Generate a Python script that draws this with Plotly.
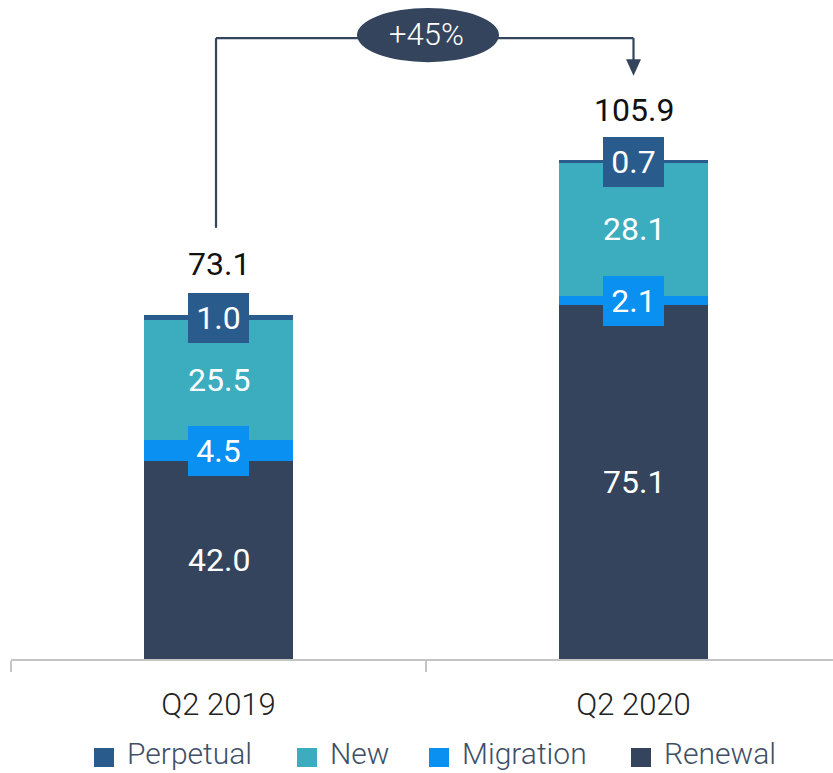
import plotly.graph_objects as go

categories = ["Q2 2019", "Q2 2020"]
renewal = [42.0, 75.1]
migration = [4.5, 2.1]
new = [25.5, 28.1]
perpetual = [1.0, 0.7]
totals = [73.1, 105.9]
growth_label = "+45%"

series = [
    ("Renewal", renewal, "#33445c", False),
    ("Migration", migration, "#0a90f0", True),
    ("New", new, "#3badbf", False),
    ("Perpetual", perpetual, "#2a5b8d", True),
]
legend_order = ["Perpetual", "New", "Migration", "Renewal"]

FONT = "Roboto"
fig = go.Figure()
annotations = []
base = [0.0, 0.0]
for name, vals, color, boxed in series:
    fig.add_trace(go.Bar(
        x=categories, y=vals, name=name, marker=dict(color=color, line=dict(width=0)),
        width=0.357, showlegend=False, hoverinfo="x+y+name",
    ))
    for i, v in enumerate(vals):
        yc = base[i] + v / 2
        ann = dict(x=categories[i], y=yc, xref="x", yref="y", text=f"{v:.1f}",
                   showarrow=False, font=dict(family=FONT, size=32, color="white"),
                   xanchor="center", yanchor="middle")
        if boxed:
            ann.update(bgcolor=color, width=61, height=50, borderpad=0, borderwidth=0)
        annotations.append(ann)
        base[i] += v

for i, t in enumerate(totals):
    annotations.append(dict(x=categories[i], y=t, xref="x", yref="y", text=f"{t:.1f}",
                            showarrow=False, yanchor="middle", yshift=51,
                            font=dict(family=FONT, size=32, color="#111111")))

arrow_c = "#33445c"
shapes = [
    dict(type="line", xref="x", yref="y", x0=-0.006, x1=-0.006, y0=91.6, y1=131.9,
         line=dict(color=arrow_c, width=2.2)),
    dict(type="line", xref="x", yref="y", x0=-0.006, x1=1.0, y0=131.9, y1=131.9,
         line=dict(color=arrow_c, width=2.2)),
    dict(type="line", xref="x", yref="y", x0=1.0, x1=1.0, y0=131.9, y1=126.5,
         line=dict(color=arrow_c, width=2.2)),
    dict(type="path", xref="x", yref="y",
         path="M 0.982 127.4 L 1.018 127.4 L 1.0 123.9 Z",
         fillcolor=arrow_c, line=dict(width=0)),
    dict(type="circle", xref="x", yref="y", x0=0.3337, x1=0.6759, y0=126.8, y1=138.3,
         fillcolor=arrow_c, line=dict(width=0)),
]
annotations.append(dict(x=0.5, y=132.6, xref="x", yref="y", text=growth_label, showarrow=False,
                        font=dict(family=FONT, size=31, color="white", weight=300)))

# custom legend
color_of = {n: c for n, _, c, _ in series}
legend_x = [94, 297, 429, 631]
W = 822.0
H = 659.0
for name, px in zip(legend_order, legend_x):
    x0 = (px - 11) / W
    x1 = (px + 20 - 11) / W
    shapes.append(dict(type="rect", xref="paper", yref="paper", x0=x0, x1=x1,
                       y0=(659 - 767) / H, y1=(659 - 748) / H,
                       fillcolor=color_of[name], line=dict(width=0)))
    annotations.append(dict(x=(px + 31 - 11) / W, y=(659 - 753) / H, xref="paper", yref="paper",
                            text=name, showarrow=False, xanchor="left", yanchor="middle",
                            font=dict(family=FONT, size=30, color="#3f4f66", weight=300)))

fig.update_layout(
    barmode="stack",
    width=833, height=773,
    margin=dict(l=11, r=0, t=0, b=114),
    plot_bgcolor="white", paper_bgcolor="white",
    showlegend=False,
    xaxis=dict(type="category", range=[-0.5, 1.4807], showline=True, linecolor="#c4c4c4",
               linewidth=1.6, ticks="outside", tickson="boundaries", ticklen=11,
               tickcolor="#c4c4c4", tickwidth=1.6, showgrid=False, zeroline=False,
               ticklabelstandoff=17,
               tickfont=dict(family=FONT, size=31, color="#222222", weight=300)),
    yaxis=dict(range=[0, 140], visible=False, showgrid=False, zeroline=False),
    shapes=shapes,
    annotations=annotations,
)

fig.write_html("out.html", config={"displayModeBar": False},
               post_script="document.body.style.margin='0px';document.body.style.overflow='hidden';")
